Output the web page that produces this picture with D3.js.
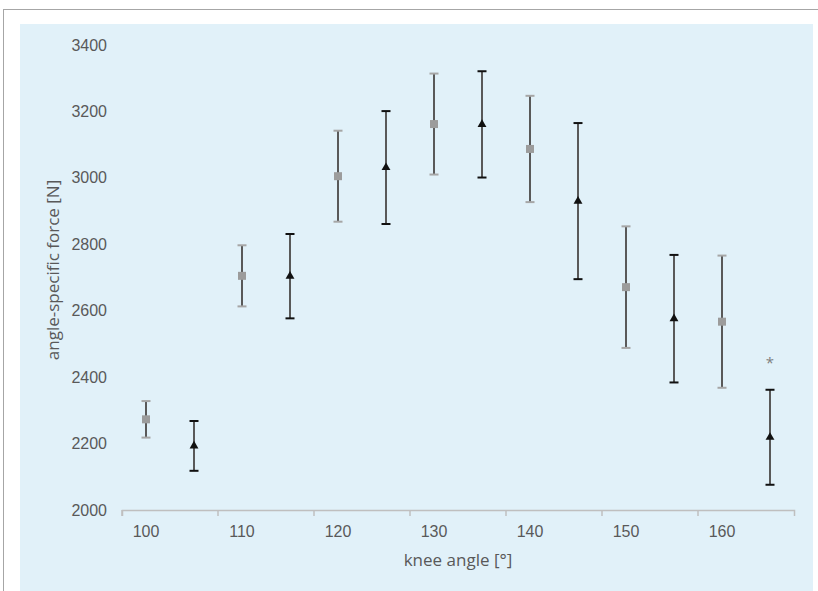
<!DOCTYPE html>
<html>
<head>
<meta charset="utf-8">
<script src="https://cdn.jsdelivr.net/npm/d3@7"></script>
<style>
  html, body { margin: 0; padding: 0; background: #fff; }
  svg { display: block; font-family: "Open Sans", "Noto Sans", sans-serif; }
  .axis text { fill: #595959; font-size: 16px; }
</style>
</head>
<body>
<div id="chart"></div>
<script>
// knee angle categories (every 5 degrees), labelled every 10
const angles = [100, 105, 110, 115, 120, 125, 130, 135, 140, 145, 150, 155, 160, 165];
const labelAngles = [100, 110, 120, 130, 140, 150, 160];
const yTicks = [2000, 2200, 2400, 2600, 2800, 3000, 3200, 3400];

// grey squares
const squareAngles = [100, 110, 120, 130, 140, 150, 160];
const squareMeans = [2273, 2705, 3005, 3162, 3087, 2671, 2567];
const squareSD = [55, 92, 137, 152, 160, 183, 199];

// black triangles
const triAngles = [105, 115, 125, 135, 145, 155, 165];
const triMeans = [2193, 2704, 3031, 3161, 2930, 2576, 2219];
const triSD = [75, 127, 170, 160, 235, 192, 143];

// significance marks
const starAngles = [165];

const width = 818, height = 591;
const margin = { top: 45, right: 24, bottom: 81, left: 122 };

const svg = d3.select('#chart').append('svg')
  .attr('width', width)
  .attr('height', height);

// outer frame + light blue panel
svg.append('rect')
  .attr('x', 3.5).attr('y', 9.5)
  .attr('width', width + 20).attr('height', height + 20)
  .attr('fill', '#fff')
  .attr('stroke', '#a6a6a6');
svg.append('rect')
  .attr('x', 20).attr('y', 24)
  .attr('width', 793).attr('height', height - 24)
  .attr('fill', '#e1f1f9');

const x = d3.scaleBand()
  .domain(angles)
  .range([margin.left, width - margin.right])
  .padding(0);
const cx = a => x(a) + x.bandwidth() / 2;

const y = d3.scaleLinear()
  .domain([2000, 3400])
  .range([height - margin.bottom, margin.top]);

// x axis: labels under every other category, ticks on the band boundaries
const xAxis = svg.append('g')
  .attr('class', 'axis')
  .attr('transform', `translate(0, ${y(2000)})`)
  .call(d3.axisBottom(x).tickValues(labelAngles).tickSizeInner(0).tickSizeOuter(6).tickPadding(16));
xAxis.select('.domain').attr('stroke', '#bfbfbf').attr('stroke-width', 1.5);
xAxis.selectAll('.tick line').remove();
xAxis.selectAll('.tick').attr('transform', d => `translate(${cx(d)},0)`);
xAxis.append('g')
  .selectAll('line')
  .data(labelAngles)
  .join('line')
  .attr('x1', d => x(d)).attr('x2', d => x(d))
  .attr('y1', 0).attr('y2', 6)
  .attr('stroke', '#bfbfbf')
  .attr('stroke-width', 1.5);

// y axis: labels only
svg.append('g')
  .attr('class', 'axis')
  .attr('transform', `translate(${margin.left}, 0)`)
  .call(d3.axisLeft(y).tickValues(yTicks).tickFormat(d3.format('d')).tickSize(0).tickPadding(15))
  .call(g => g.select('.domain').remove());

// axis titles
svg.append('text')
  .attr('x', (x.range()[0] + x.range()[1]) / 2)
  .attr('y', 566)
  .attr('text-anchor', 'middle')
  .attr('fill', '#595959')
  .attr('font-size', '17px')
  .text('knee angle [°]');

svg.append('text')
  .attr('transform', `translate(59, 270) rotate(-90)`)
  .attr('text-anchor', 'middle')
  .attr('fill', '#595959')
  .attr('font-size', '17px')
  .text('angle-specific force [N]');

// error bars + markers for one series
function drawSeries(keys, means, sds, capColor, markerColor, symbol, size) {
  const rows = keys.map((k, i) => ({ k, m: means[i], sd: sds[i] }));
  const g = svg.append('g');

  g.selectAll('.stem').data(rows).join('line')
    .attr('x1', d => cx(d.k)).attr('x2', d => cx(d.k))
    .attr('y1', d => y(d.m - d.sd)).attr('y2', d => y(d.m + d.sd))
    .attr('stroke', '#595959').attr('stroke-width', 2);

  ['lo', 'hi'].forEach(side => {
    g.selectAll('.cap-' + side).data(rows).join('line')
      .attr('x1', d => cx(d.k) - 4.5).attr('x2', d => cx(d.k) + 4.5)
      .attr('y1', d => y(side === 'lo' ? d.m - d.sd : d.m + d.sd))
      .attr('y2', d => y(side === 'lo' ? d.m - d.sd : d.m + d.sd))
      .attr('stroke', capColor).attr('stroke-width', 2);
  });

  g.selectAll('.marker').data(rows).join('path')
    .attr('transform', d => `translate(${cx(d.k)}, ${y(d.m)})`)
    .attr('d', d3.symbol().type(symbol).size(size))
    .attr('fill', markerColor);

  return rows;
}

drawSeries(squareAngles, squareMeans, squareSD, '#a6a6a6', '#9c9c9c', d3.symbolSquare, 64);
const triRows = drawSeries(triAngles, triMeans, triSD, '#111', '#111', d3.symbolTriangle, 34);

// asterisk above the significant bar
svg.append('g').selectAll('text')
  .data(triRows.filter(d => starAngles.includes(d.k)))
  .join('text')
  .attr('x', d => cx(d.k))
  .attr('y', d => y(d.m + d.sd) - 22)
  .attr('text-anchor', 'middle')
  .attr('fill', '#7f7f7f')
  .attr('font-size', '15px')
  .text('*');
</script>
</body>
</html>
